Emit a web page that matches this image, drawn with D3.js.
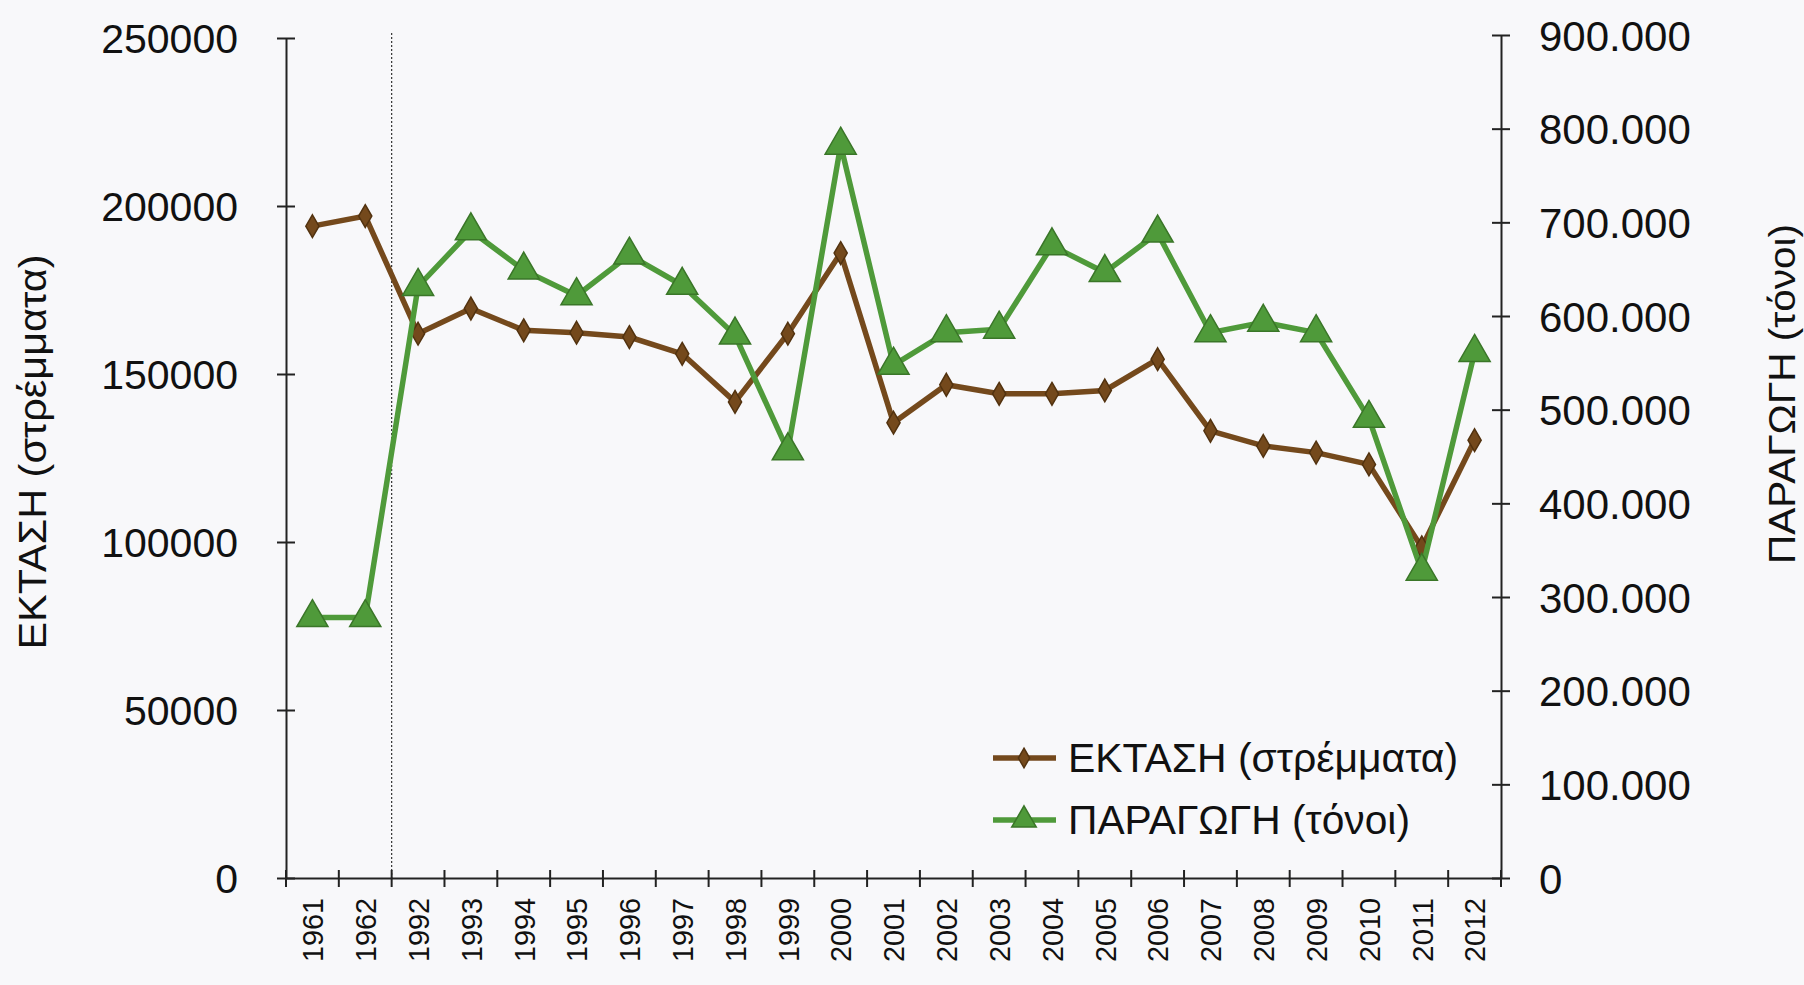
<!DOCTYPE html>
<html>
<head>
<meta charset="utf-8">
<script src="https://cdn.jsdelivr.net/npm/d3@7"></script>
<style>
  html, body { margin: 0; padding: 0; background: #f8f8fa; }
  svg { display: block; }
  text { font-family: "Liberation Sans", Arial, sans-serif; fill: #111; }
</style>
</head>
<body>
<svg id="chart" width="1804" height="985"></svg>
<script>
// ---- data ----
const years = ["1961","1962","1992","1993","1994","1995","1996","1997","1998","1999","2000",
               "2001","2002","2003","2004","2005","2006","2007","2008","2009","2010","2011","2012"];
const areaValues = [194000,197000,162000,169500,163000,162300,161000,156000,141700,162000,186000,
                    135500,146800,144100,144100,145100,154400,133100,128600,126600,123100,98400,130300];
const prodValues = [278000,278000,631600,691000,649000,621700,665000,632800,579700,456100,782400,
                    547500,582200,585900,674900,646400,688500,582200,593300,582200,490700,327500,561100];
const leftTicks = [0,50000,100000,150000,200000,250000];
const rightTicks = [0,100000,200000,300000,400000,500000,600000,700000,800000,900000];
const seriesNames = ["ΕΚΤΑΣΗ (στρέμματα)", "ΠΑΡΑΓΩΓΗ (τόνοι)"];
const leftTitle = "ΕΚΤΑΣΗ (στρέμματα)";
const rightTitle = "ΠΑΡΑΓΩΓΗ (τόνοι)";

// ---- layout ----
const svg = d3.select("#chart");
const X0 = 286, X1 = 1501, YB = 878, YT = 38, YTR = 35;
const brown = "#74491c", brownDark = "#52320f";
const green = "#4f9a3a", greenDark = "#3a7628";

const x = d3.scaleBand().domain(years).range([X0, X1]).padding(0);
const cx = d => x(d) + x.bandwidth() / 2;
const yL = d3.scaleLinear().domain([0, 250000]).range([YB, YT]);
const yR = d3.scaleLinear().domain([0, 900000]).range([YB, YTR]);

svg.append("rect").attr("width", 1804).attr("height", 985).attr("fill", "#f8f8fa");

// dotted break line between 1962 and 1992
svg.append("line")
  .attr("x1", x("1992")).attr("x2", x("1992"))
  .attr("y1", 33).attr("y2", YB)
  .attr("stroke", "#333").attr("stroke-width", 1.2).attr("stroke-dasharray", "2,2");

// left axis
const gL = svg.append("g").attr("transform", `translate(${X0},0)`)
  .call(d3.axisLeft(yL).tickValues(leftTicks).tickSize(0).tickPadding(48).tickFormat(d3.format("d")));
gL.select(".domain").attr("stroke", "#222").attr("stroke-width", 2);
gL.selectAll(".tick line").attr("x1", -9).attr("x2", 9).attr("stroke", "#222").attr("stroke-width", 2);
gL.selectAll(".tick text").style("font-size", "41px").attr("dy", "0.36em");

// right axis
const fmtR = d => d === 0 ? "0" : d3.format(",")(d).replace(/,/g, ".");
const gR = svg.append("g").attr("transform", `translate(${X1},0)`)
  .call(d3.axisRight(yR).tickValues(rightTicks).tickSize(0).tickPadding(38).tickFormat(fmtR));
gR.select(".domain").attr("stroke", "#222").attr("stroke-width", 2);
gR.selectAll(".tick line").attr("x1", -9).attr("x2", 9).attr("stroke", "#222").attr("stroke-width", 2);
gR.selectAll(".tick text").style("font-size", "42px").attr("dy", "0.36em");

// bottom axis
const gB = svg.append("g").attr("transform", `translate(0,${YB})`)
  .call(d3.axisBottom(x).tickSize(0).tickPadding(0));
gB.select(".domain").attr("stroke", "#222").attr("stroke-width", 2);
gB.selectAll(".tick text")
  .style("font-size", "30px")
  .attr("text-anchor", "end")
  .attr("textLength", 64).attr("lengthAdjust", "spacingAndGlyphs")
  .attr("transform", "translate(0,20) rotate(-90)")
  .attr("x", 0).attr("y", 0).attr("dy", "0.36em");
// boundary ticks
gB.selectAll(".btick").data(years).enter().append("line")
  .attr("class", "btick")
  .attr("x1", d => x(d) + x.bandwidth()).attr("x2", d => x(d) + x.bandwidth())
  .attr("y1", -8).attr("y2", 9)
  .attr("stroke", "#222").attr("stroke-width", 2);
gB.append("line").attr("x1", X0).attr("x2", X0).attr("y1", -8).attr("y2", 9)
  .attr("stroke", "#222").attr("stroke-width", 2);

// axis titles
svg.append("text")
  .attr("transform", "translate(32,452) rotate(-90)")
  .attr("text-anchor", "middle").attr("dy", "0.36em")
  .attr("textLength", 395).attr("lengthAdjust", "spacingAndGlyphs")
  .style("font-size", "38px").text(leftTitle);
svg.append("text")
  .attr("transform", "translate(1782,394) rotate(-90)")
  .attr("text-anchor", "middle").attr("dy", "0.36em")
  .attr("textLength", 340).attr("lengthAdjust", "spacingAndGlyphs")
  .style("font-family", "'Liberation Sans Narrow', 'Liberation Sans', Arial, sans-serif")
  .style("font-size", "37px").text(rightTitle);

// lines
const lineL = d3.line().x((d, i) => cx(years[i])).y(d => yL(d));
const lineR = d3.line().x((d, i) => cx(years[i])).y(d => yR(d));

svg.append("path").datum(areaValues).attr("d", lineL)
  .attr("fill", "none").attr("stroke", brown).attr("stroke-width", 5.5).attr("stroke-linejoin", "miter");
const diamond = d3.symbol().type(d3.symbolDiamond).size(150);
svg.selectAll(".dia").data(areaValues).enter().append("path")
  .attr("class", "dia").attr("d", diamond)
  .attr("transform", (d, i) => `translate(${cx(years[i])},${yL(d)})`)
  .attr("fill", brown).attr("stroke", brownDark).attr("stroke-width", 1.5);

svg.append("path").datum(prodValues).attr("d", lineR)
  .attr("fill", "none").attr("stroke", green).attr("stroke-width", 5.5).attr("stroke-linejoin", "miter");
const tri = d3.symbol().type(d3.symbolTriangle).size(420);
svg.selectAll(".tri").data(prodValues).enter().append("path")
  .attr("class", "tri").attr("d", tri)
  .attr("transform", (d, i) => `translate(${cx(years[i])},${yR(d)})`)
  .attr("fill", green).attr("stroke", greenDark).attr("stroke-width", 1.5);

// legend
const legend = svg.append("g");
const legRows = [
  {name: seriesNames[0], y: 758, color: brown, dark: brownDark, sym: d3.symbol().type(d3.symbolDiamond).size(110), len: 390},
  {name: seriesNames[1], y: 820, color: green, dark: greenDark, sym: d3.symbol().type(d3.symbolTriangle).size(260), len: 342}
];
legRows.forEach(r => {
  legend.append("line").attr("x1", 993).attr("x2", 1056).attr("y1", r.y).attr("y2", r.y)
    .attr("stroke", r.color).attr("stroke-width", 5.5);
  legend.append("path").attr("d", r.sym).attr("transform", `translate(1024,${r.y})`)
    .attr("fill", r.color).attr("stroke", r.dark).attr("stroke-width", 1.5);
  legend.append("text").attr("x", 1068).attr("y", r.y).attr("dy", "0.36em")
    .attr("textLength", r.len).attr("lengthAdjust", "spacingAndGlyphs")
    .style("font-size", "40px").text(r.name);
});
</script>
</body>
</html>
